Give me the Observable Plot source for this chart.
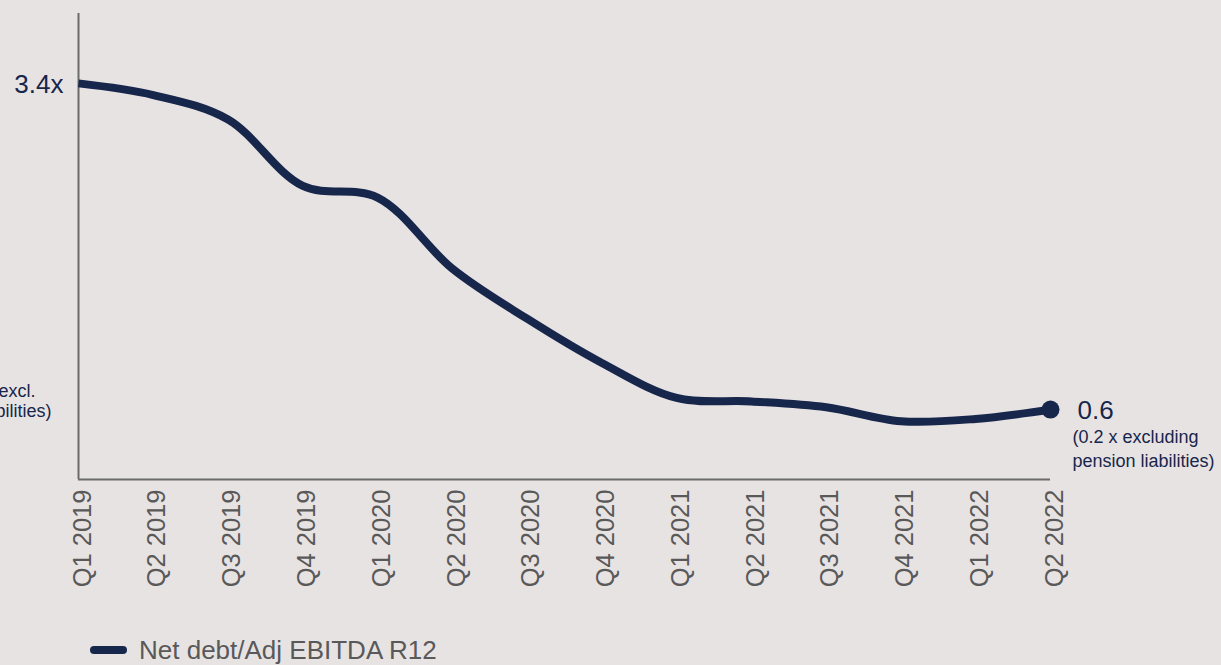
<!DOCTYPE html>
<html>
<head>
<meta charset="utf-8">
<script src="https://cdn.jsdelivr.net/npm/d3@7"></script>
<script src="https://cdn.jsdelivr.net/npm/@observablehq/plot@0.6"></script>
<style>
  html, body { margin: 0; padding: 0; background: #E8E3E3; overflow: hidden; }
  body { width: 1221px; height: 665px; font-family: "Liberation Sans", Arial, sans-serif; }
  #legend { display: flex; align-items: center; height: 30px; margin-top: 5px; padding-left: 90px; font-size: 26px; color: #595959; white-space: nowrap; }
  #legend .sw { width: 37px; height: 8px; border-radius: 4px; background: #17264B; margin-right: 12px; }
</style>
</head>
<body>
<div id="chart"></div>
<div id="legend"><span class="sw"></span><span>Net debt/Adj EBITDA R12</span></div>
<script>
const quarters = ["Q1 2019","Q2 2019","Q3 2019","Q4 2019","Q1 2020","Q2 2020","Q3 2020","Q4 2020","Q1 2021","Q2 2021","Q3 2021","Q4 2021","Q1 2022","Q2 2022"];
const values = [3.4, 3.30, 3.09, 2.52, 2.42, 1.81, 1.38, 1.00, 0.70, 0.67, 0.62, 0.50, 0.52, 0.6];
const seriesName = "Net debt/Adj EBITDA R12";
const firstLabel = "3.4x";
const lastLabel = "0.6";
const lastNote = "(0.2 x excluding\npension liabilities)";
const leftNoteLines = ["excl.", "pension liabilities)"];

const data = quarters.map((q, i) => ({q, v: values[i]}));
const first = data[0], last = data[data.length - 1];
const navy = "#17264B";

const plot = Plot.plot({
  width: 1221,
  height: 630,
  marginLeft: 78,
  marginRight: 171,
  marginTop: 13,
  marginBottom: 151,
  style: {background: "transparent", fontFamily: "'Liberation Sans', Arial, sans-serif", overflow: "visible"},
  x: {type: "point", domain: quarters, padding: 0, round: false},
  y: {domain: [0, 4], axis: null},
  marks: [
    Plot.ruleY([0], {stroke: "#6b6b6b", strokeWidth: 2}),
    Plot.ruleX([quarters[0]], {y1: 0, y2: 4, stroke: "#6b6b6b", strokeWidth: 2}),
    Plot.axisX({tickRotate: -90, tickSize: 0, tickPadding: 10, fontSize: 25.5, fill: "#595959", dx: 4, label: null}),
    Plot.line(data, {x: "q", y: "v", stroke: navy, strokeWidth: 8, curve: "catmull-rom", strokeLinecap: "butt"}),
    Plot.dot([last], {x: "q", y: "v", r: 9, fill: navy}),
    Plot.text([first], {x: "q", y: "v", text: () => firstLabel, textAnchor: "end", dx: -15, dy: 1, fontSize: 26, fill: navy}),
    Plot.text([last], {x: "q", y: "v", text: () => lastLabel, textAnchor: "start", dx: 27, dy: 1, fontSize: 26, fill: navy}),
    Plot.text([last], {x: "q", y: "v", text: () => lastNote, textAnchor: "start", dx: 22, dy: 38, fontSize: 18, lineHeight: 1.333, fill: navy}),
    Plot.text([{q: quarters[0], v: last.v}], {x: "q", y: "v", text: () => leftNoteLines[0], textAnchor: "end", dx: -43, dy: -18, fontSize: 18, fill: navy}),
    Plot.text([{q: quarters[0], v: last.v}], {x: "q", y: "v", text: () => leftNoteLines[1], textAnchor: "end", dx: -27, dy: 2, fontSize: 18, fill: navy})
  ]
});
document.getElementById("chart").appendChild(plot);
</script>
</body>
</html>
